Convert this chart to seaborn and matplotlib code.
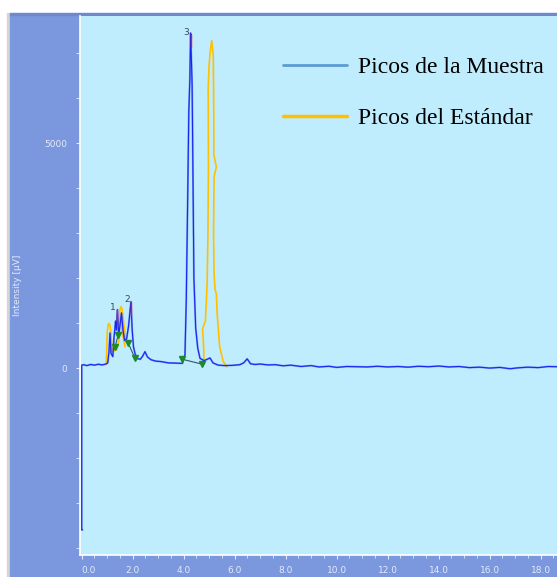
import matplotlib
matplotlib.use('Agg')
import matplotlib.pyplot as plt
import seaborn as sns
from matplotlib.lines import Line2D
from matplotlib.patches import Rectangle
from matplotlib.ticker import MultipleLocator, FixedLocator

# sample chromatogram (time in min, signal in uV)
sample_time = [0.03, 0.0, 0.0, 0.08, 0.2, 0.35, 0.5, 0.65, 0.8, 0.95, 1.02, 1.07, 1.11,
               1.15, 1.22, 1.27, 1.33, 1.36, 1.40, 1.45, 1.50, 1.56, 1.62, 1.68, 1.76,
               1.84, 1.93, 1.98, 2.03, 2.09, 2.16, 2.30, 2.40, 2.48, 2.58, 2.72, 2.9,
               3.1, 3.4, 3.7, 3.95, 4.05, 4.10, 4.15, 4.20, 4.24, 4.27, 4.30, 4.33,
               4.36, 4.40, 4.47, 4.55, 4.64, 4.80, 4.92, 5.03, 5.15, 5.35, 5.6, 5.9,
               6.2, 6.35, 6.49, 6.62, 6.8, 7.0, 7.3, 7.6, 7.9, 8.2, 8.6, 9.0, 9.3,
               9.7, 10.0, 10.4, 10.8, 11.2, 11.6, 12.0, 12.4, 12.8, 13.2, 13.6, 14.0,
               14.4, 14.8, 15.2, 15.6, 16.0, 16.4, 16.8, 17.1, 17.5, 17.9, 18.3, 18.64]
sample_signal = [-3590, -3590, 70, 80, 60, 85, 70, 90, 75, 95, 120, 370, 780,
                 330, 260, 700, 1050, 850, 1300, 720, 950, 1230, 850, 620, 650,
                 950, 1480, 850, 480, 330, 220, 200, 280, 370, 250, 190, 160,
                 150, 120, 115, 110, 300, 1500, 3500, 5700, 6400, 7450, 6900, 6300,
                 4500, 2000, 900, 450, 220, 170, 200, 230, 120, 70, 60, 65,
                 80, 120, 210, 100, 85, 95, 75, 80, 55, 70, 40, 60, 30,
                 45, 20, 40, 35, 30, 45, 30, 40, 25, 45, 35, 50,
                 30, 40, 15, 25, 5, 20, -10, 10, 25, 15, 40, 35]

# standard chromatogram, drawn in two pieces
std1_time = [0.96, 0.98, 1.00, 1.03, 1.07, 1.11, 1.15, 1.18, 1.21, 1.16, 1.12, 1.10,
             1.11, 1.14, 1.25, 1.38, 1.46, 1.47, 1.50, 1.54, 1.58, 1.63, 1.68, 1.72,
             1.66, 1.60, 1.57, 1.58, 1.62, 1.70]
std1_signal = [90, 400, 800, 960, 1000, 950, 780, 520, 360, 380, 480, 800,
               600, 420, 380, 420, 620, 1000, 1300, 1370, 1320, 1100, 850, 650,
               700, 740, 1200, 900, 720, 480]
std2_time = [4.80, 4.78, 4.74, 4.85, 4.92, 4.95, 4.97, 4.96, 4.99, 5.04, 5.10, 5.16,
             5.18, 5.18, 5.28, 5.19, 5.17, 5.19, 5.23, 5.28, 5.31, 5.41, 5.55, 5.70]
std2_signal = [100, 500, 880, 1050, 1900, 3000, 4500, 6200, 6700, 7050, 7280, 6950,
               5600, 4750, 4480, 4250, 3000, 2100, 1750, 1650, 1230, 480, 150, 30]

# peak tops and integration baseline marks
peak_names = ['1', '2', '3']
peak_time = [1.40, 1.93, 4.27]
peak_top = [1310, 1480, 7420]
peak_low = [1035, 1185, 7150]
base_time = [[1.31, 1.43], [1.83, 2.09], [3.95, 4.70]]
base_signal = [[480, 740], [555, 220], [200, 95]]

legend_labels = ['Picos de la Muestra', 'Picos del Estándar']

W, H = 557, 577
sns.set_style('white')
fig = plt.figure(figsize=(W / 100, H / 100), dpi=100, facecolor='white')

# window frame
fig.patches.append(Rectangle((7 / W, 0), 3 / W, 1 - 13 / H, transform=fig.transFigure,
                             color='#d6d6d6', zorder=-5))
fig.patches.append(Rectangle((10 / W, 0), 1, 1 - 14 / H, transform=fig.transFigure,
                             color='#7b97de', zorder=-5))
fig.patches.append(Rectangle((10 / W, 1 - 15 / H), 1, 2 / H, transform=fig.transFigure,
                             color='#7088cc', zorder=-5))

ax = fig.add_axes([80 / W, 22 / H, (W - 80) / W, (555 - 16) / H])
ax.set_facecolor('#c0edfd')

sns.lineplot(x=std1_time, y=std1_signal, sort=False, estimator=None, ax=ax,
             color='#ffc000', lw=1.2)
sns.lineplot(x=std2_time, y=std2_signal, sort=False, estimator=None, ax=ax,
             color='#ffc000', lw=1.2)
sns.lineplot(x=sample_time, y=sample_signal, sort=False, estimator=None, ax=ax,
             color='#5a78f0', lw=1.4, alpha=0.7)
sns.lineplot(x=sample_time, y=sample_signal, sort=False, estimator=None, ax=ax,
             color='#1a26f0', lw=0.8)

for bt, bs in zip(base_time, base_signal):
    ax.plot(bt, bs, color='#2d5a66', lw=0.8)
    ax.plot(bt, bs, ls='none', marker='v', ms=4, color='#1c8a2a')

for name, pt, ptop, plow in zip(peak_names, peak_time, peak_top, peak_low):
    ax.plot([pt, pt], [plow, ptop], color='#e02020', lw=1.0)
    ax.text(pt - 0.05, ptop - 60, name, ha='right', va='bottom', fontsize=6.5,
            color='#34495a')

ax.set_xlim(-0.067, 18.64)
ax.set_ylim(-4149, 7829)

for s in ['top', 'right']:
    ax.spines[s].set_visible(False)
for s in ['left', 'bottom']:
    ax.spines[s].set_color('white')
    ax.spines[s].set_linewidth(1.2)

tick_col = '#e4eafa'
ax.set_xticks(range(0, 20, 2))
ax.set_xticklabels([f'{v:.1f}' for v in range(0, 20, 2)])
ax.xaxis.set_minor_locator(MultipleLocator(0.5))
ax.xaxis.get_majorticklabels()[0].set_horizontalalignment('left')
ax.yaxis.set_major_locator(FixedLocator([0, 5000]))
ax.yaxis.set_minor_locator(MultipleLocator(1000))
ax.set_yticklabels(['0', '5000'])
ax.tick_params(axis='both', which='both', direction='out', colors=tick_col,
               labelsize=6.5, left=True, bottom=True)
ax.tick_params(axis='x', which='major', length=3, pad=5)
ax.tick_params(axis='x', which='minor', length=2)
ax.tick_params(axis='y', which='both', length=3, pad=6)
ax.set_xlabel('')
ax.set_ylabel('Intensity [µV]', fontsize=6.5, color=tick_col)
ax.yaxis.set_label_coords(-58 / (W - 80), 0.5)

handles = [Line2D([], [], color='#5b9bd5', lw=2),
           Line2D([], [], color='#ffc000', lw=2.5)]
leg = ax.legend(handles, legend_labels, loc='upper left',
                bbox_to_anchor=((274 - 80) / (W - 80), 1 - (47 - 16) / (555 - 16)),
                frameon=False, handlelength=2.7, handletextpad=0.47,
                labelspacing=1.27, borderaxespad=0,
                prop={'family': 'Liberation Serif', 'size': 17})
for t in leg.get_texts():
    t.set_color('black')

fig.savefig('out.png', dpi=100)
